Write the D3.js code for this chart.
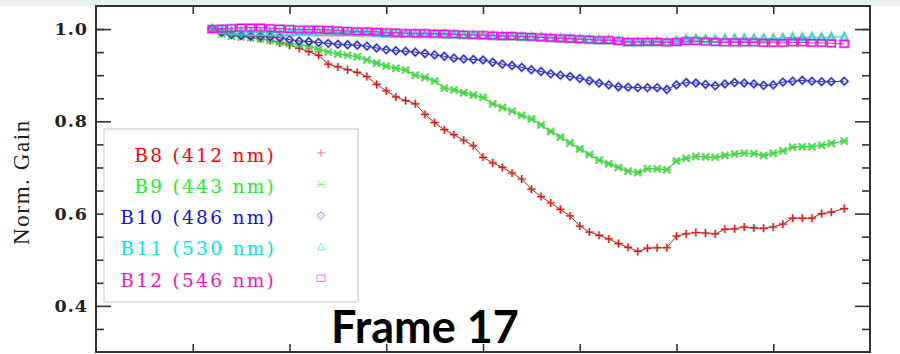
<!DOCTYPE html>
<html>
<head>
<meta charset="utf-8">
<script src="https://cdn.jsdelivr.net/npm/d3@7"></script>
<style>
  html, body { margin: 0; padding: 0; background: #fff; }
  svg { display: block; }
</style>
</head>
<body>
<svg id="chart" width="900" height="354"></svg>
<script>
// sample position (days), shared by all bands
const days = [36, 39, 42, 45, 48, 51, 54, 57, 60, 63,
              66, 69, 72, 75, 78, 81, 84, 87, 90, 93,
              96, 99, 102, 105, 108, 111, 114, 117, 120, 123,
              126, 129, 132, 135, 138, 141, 144, 147, 150, 153,
              156, 159, 162, 165, 168, 171, 174, 177, 180, 183,
              186, 189, 192, 195, 198, 201, 204, 207, 210, 213,
              216, 219, 222, 225, 228, 232];

const b8 = [1.000, 0.995, 0.991, 0.986, 0.982, 0.979, 0.975, 0.970, 0.965, 0.958,
            0.951, 0.943, 0.924, 0.918, 0.912, 0.906, 0.897, 0.880, 0.866, 0.853,
            0.845, 0.838, 0.815, 0.797, 0.782, 0.771, 0.759, 0.747, 0.722, 0.710,
            0.700, 0.688, 0.675, 0.653, 0.637, 0.623, 0.609, 0.595, 0.573, 0.560,
            0.553, 0.545, 0.535, 0.527, 0.518, 0.525, 0.526, 0.526, 0.551, 0.556,
            0.559, 0.558, 0.556, 0.566, 0.567, 0.571, 0.569, 0.568, 0.571, 0.577,
            0.590, 0.590, 0.590, 0.600, 0.603, 0.611];

const b9 = [1.000, 0.990, 0.985, 0.983, 0.981, 0.979, 0.976, 0.972, 0.969, 0.966,
            0.963, 0.956, 0.950, 0.946, 0.943, 0.940, 0.933, 0.926, 0.920, 0.915,
            0.911, 0.900, 0.895, 0.887, 0.872, 0.868, 0.862, 0.857, 0.852, 0.838,
            0.830, 0.822, 0.813, 0.805, 0.792, 0.778, 0.766, 0.753, 0.740, 0.728,
            0.716, 0.708, 0.700, 0.692, 0.689, 0.697, 0.697, 0.695, 0.714, 0.720,
            0.724, 0.723, 0.722, 0.726, 0.729, 0.731, 0.730, 0.726, 0.731, 0.736,
            0.744, 0.745, 0.745, 0.748, 0.752, 0.757];

const b10 = [1.000, 0.993, 0.988, 0.986, 0.985, 0.984, 0.983, 0.981, 0.977, 0.974,
             0.973, 0.971, 0.969, 0.967, 0.966, 0.965, 0.963, 0.959, 0.955, 0.953,
             0.952, 0.950, 0.947, 0.944, 0.941, 0.937, 0.935, 0.934, 0.933, 0.928,
             0.924, 0.921, 0.917, 0.912, 0.908, 0.903, 0.900, 0.897, 0.893, 0.888,
             0.883, 0.879, 0.875, 0.874, 0.873, 0.873, 0.873, 0.869, 0.879, 0.884,
             0.883, 0.880, 0.877, 0.881, 0.884, 0.883, 0.881, 0.878, 0.879, 0.885,
             0.887, 0.889, 0.887, 0.886, 0.886, 0.887];

const b11 = [1.000, 0.997, 0.995, 0.994, 0.993, 0.993, 0.993, 0.992, 0.993, 0.994,
             0.994, 0.993, 0.993, 0.993, 0.993, 0.992, 0.992, 0.991, 0.990, 0.990,
             0.990, 0.989, 0.989, 0.989, 0.988, 0.988, 0.987, 0.987, 0.986, 0.985,
             0.984, 0.984, 0.983, 0.983, 0.982, 0.981, 0.980, 0.979, 0.978, 0.977,
             0.976, 0.976, 0.974, 0.972, 0.972, 0.973, 0.973, 0.972, 0.975, 0.978,
             0.979, 0.978, 0.978, 0.979, 0.980, 0.980, 0.980, 0.980, 0.980, 0.981,
             0.982, 0.982, 0.983, 0.982, 0.983, 0.983];

const b12 = [1.000, 1.001, 1.002, 1.003, 1.003, 1.003, 1.002, 1.001, 1.000, 0.999,
             0.999, 0.999, 0.998, 0.997, 0.996, 0.995, 0.995, 0.994, 0.993, 0.992,
             0.991, 0.991, 0.991, 0.990, 0.990, 0.989, 0.988, 0.987, 0.987, 0.986,
             0.985, 0.985, 0.984, 0.983, 0.982, 0.981, 0.980, 0.979, 0.978, 0.977,
             0.976, 0.976, 0.974, 0.972, 0.972, 0.972, 0.972, 0.971, 0.972, 0.974,
             0.974, 0.973, 0.972, 0.971, 0.971, 0.971, 0.971, 0.970, 0.970, 0.970,
             0.971, 0.971, 0.970, 0.970, 0.969, 0.968];

const bandNames = ["B8 (412 nm)", "B9 (443 nm)", "B10 (486 nm)", "B11 (530 nm)", "B12 (546 nm)"];
const yMajor = [0.4, 0.6, 0.8, 1.0];
const yMinor = [0.35, 0.45, 0.5, 0.55, 0.65, 0.7, 0.75, 0.85, 0.9, 0.95, 1.0];
const xTicks = [30, 60, 90, 120, 150, 180, 210];
const frameLabel = "Frame 17";

// marker shapes (stroked, IDL-style)
const shapes = {
    plus: "M-4,0H4M0,-4V4",
    cross: "M-3.5,-3.5L3.5,3.5M-3.5,3.5L3.5,-3.5M-4,0H4",
    diamond: "M0,-3.8L3.8,0L0,3.8L-3.8,0Z",
    triangle: "M0,-3.8L3.6,3L-3.6,3Z",
    square: "M-4,-3.3H4V3.3H-4Z"
};

const series = [
    { name: bandNames[0], values: b8,  line: "#c81e1e", mark: "#ee1010", text: "#ff0000", shape: shapes.plus },
    { name: bandNames[1], values: b9,  line: "#30c030", mark: "#22ee22", text: "#22ee22", shape: shapes.cross },
    { name: bandNames[2], values: b10, line: "#1414f0", mark: "#2020e0", text: "#1010e8", shape: shapes.diamond },
    { name: bandNames[3], values: b11, line: "#10cccc", mark: "#00e0e0", text: "#00e8e8", shape: shapes.triangle },
    { name: bandNames[4], values: b12, line: "#e020e0", mark: "#ff00ff", text: "#ff10c0", shape: shapes.square }
];

const width = 900, height = 354;
const margin = { top: 6, right: 30, bottom: 2, left: 96 };

const svg = d3.select("#chart");

const x = d3.scaleLinear().domain([0, 240]).range([margin.left, width - margin.right]);
const y = d3.scaleLinear().domain([0.3, 1.05]).range([height - margin.bottom, margin.top]);

// light band along the top of the slide
svg.append("rect")
    .attr("x", 0).attr("y", 0)
    .attr("width", width).attr("height", margin.top)
    .attr("fill", "#e9f1f4");

// data
const line = d3.line()
    .x((d, i) => x(days[i]))
    .y(d => y(d));

series.forEach(s => {
    svg.append("path")
        .datum(s.values)
        .attr("fill", "none")
        .attr("stroke", s.line)
        .attr("stroke-width", 1)
        .attr("d", line);

    const g = svg.append("g");
    const pts = s.values.map((v, i) => [x(days[i]), y(v)]);

    g.selectAll(".halo")
        .data(pts)
        .enter().append("path")
        .attr("class", "halo")
        .attr("transform", d => `translate(${d[0]},${d[1]})`)
        .attr("d", s.shape)
        .attr("fill", "none")
        .attr("stroke", "#8a8a8a")
        .attr("stroke-opacity", 0.45)
        .attr("stroke-width", 2.8);

    g.selectAll(".mk")
        .data(pts)
        .enter().append("path")
        .attr("class", "mk")
        .attr("transform", d => `translate(${d[0]},${d[1]})`)
        .attr("d", s.shape)
        .attr("fill", "none")
        .attr("stroke", s.mark)
        .attr("stroke-width", 1.2);
});

// axes
const axisColor = "#333";
function styleAxis(g) {
    g.select(".domain").remove();
    g.selectAll(".tick line").attr("stroke", axisColor).attr("stroke-width", 1.6);
}

svg.append("g").attr("transform", `translate(${x(0)},0)`)
    .call(d3.axisRight(y).tickValues(yMajor).tickSize(15).tickFormat(""))
    .call(styleAxis);
svg.append("g").attr("transform", `translate(${x(0)},0)`)
    .call(d3.axisRight(y).tickValues(yMinor).tickSize(8).tickFormat(""))
    .call(styleAxis);
svg.append("g").attr("transform", `translate(${x(240)},0)`)
    .call(d3.axisLeft(y).tickValues(yMajor).tickSize(15).tickFormat(""))
    .call(styleAxis);
svg.append("g").attr("transform", `translate(${x(240)},0)`)
    .call(d3.axisLeft(y).tickValues(yMinor).tickSize(8).tickFormat(""))
    .call(styleAxis);
svg.append("g").attr("transform", `translate(0,${y(1.05)})`)
    .call(d3.axisBottom(x).tickValues(xTicks).tickSize(8).tickFormat(""))
    .call(styleAxis);
svg.append("g").attr("transform", `translate(0,${y(0.3)})`)
    .call(d3.axisTop(x).tickValues(xTicks).tickSize(8).tickFormat(""))
    .call(styleAxis);

// y tick labels
const yl = svg.append("g").attr("transform", `translate(${x(0)},0)`)
    .call(d3.axisLeft(y).tickValues(yMajor).tickSize(0).tickPadding(8).tickFormat(d3.format(".1f")));
yl.select(".domain").remove();
yl.selectAll("text")
    .attr("font-family", "DejaVu Serif")
    .attr("font-weight", "bold")
    .attr("font-size", 17.5)
    .attr("letter-spacing", 1)
    .attr("fill", "#222");

// frame
svg.append("rect")
    .attr("x", x(0)).attr("y", y(1.05))
    .attr("width", x(240) - x(0)).attr("height", y(0.3) - y(1.05))
    .attr("fill", "none")
    .attr("stroke", axisColor)
    .attr("stroke-width", 2);

// y title
svg.append("text")
    .attr("transform", `translate(29,${(y(1.05) + y(0.3)) / 2 + 3}) rotate(-90)`)
    .attr("text-anchor", "middle")
    .attr("font-family", "Liberation Serif")
    .attr("font-size", 23)
    .attr("letter-spacing", 1.6)
    .attr("fill", "#222")
    .text("Norm. Gain");

// legend
const legend = svg.append("g");
legend.append("rect")
    .attr("x", 104).attr("y", 129)
    .attr("width", 254).attr("height", 173)
    .attr("fill", "#fff")
    .attr("stroke", "#cfcfcf")
    .attr("stroke-width", 1.2);

series.forEach((s, i) => {
    const ly = 155 + i * 31.3;
    legend.append("text")
        .attr("x", 276).attr("y", ly + 6.5)
        .attr("text-anchor", "end")
        .attr("font-family", "DejaVu Serif")
        .attr("font-size", 18.5)
        .attr("letter-spacing", 2.3)
        .attr("fill", s.text)
        .text(s.name);
    legend.append("path")
        .attr("transform", `translate(321,${ly - 2})`)
        .attr("d", s.shape)
        .attr("fill", "none")
        .attr("stroke", s.mark)
        .attr("stroke-opacity", 0.55)
        .attr("stroke-width", 1);
});

// frame annotation
svg.append("text")
    .attr("x", 425).attr("y", 343)
    .attr("text-anchor", "middle")
    .attr("font-family", "Lato")
    .attr("font-weight", "bold")
    .attr("font-size", 45)
    .attr("fill", "#000")
    .text(frameLabel);
</script>
</body>
</html>
